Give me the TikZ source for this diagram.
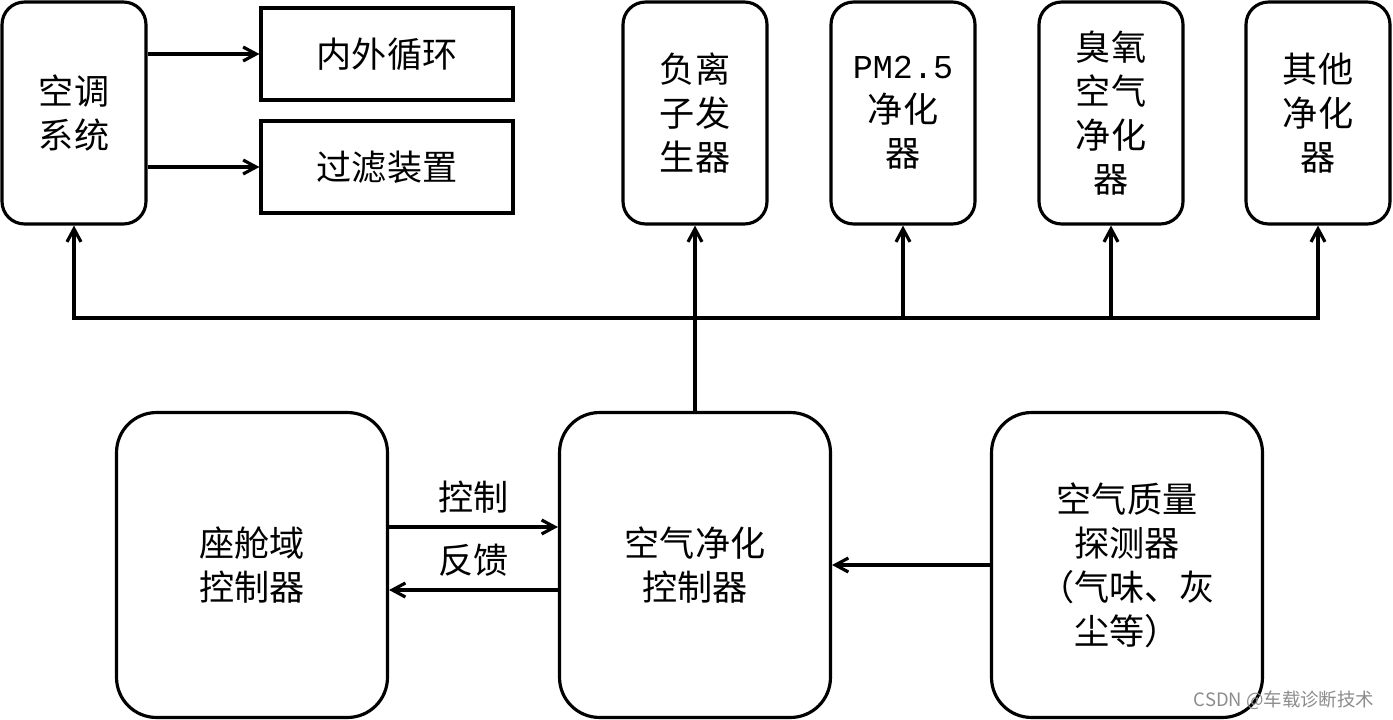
\documentclass[tikz,border=0pt]{standalone}
\usepackage{fontspec}
\usepackage{tikz}
\usetikzlibrary{arrows.meta, calc}
\newfontfamily\cjk{Noto Sans CJK SC}
\newfontfamily\pmfont{Liberation Mono}

\begin{document}
\begin{tikzpicture}[x=0.02cm, y=-0.02cm, line width=1.8pt,
  >={Straight Barb[length=2.6mm, width=2.8mm]},
  every node/.style={font=\cjk\fontsize{20}{25}\selectfont},
  tallbox/.style={draw, rounded corners=0.45cm, minimum width=2.88cm,
    minimum height=4.44cm, align=center, inner sep=0pt},
  flatbox/.style={draw, minimum width=5.04cm, minimum height=1.84cm, inner sep=0pt},
  bigbox/.style={draw, rounded corners=0.8cm, minimum width=5.42cm,
    minimum height=6.1cm, align=center, inner sep=0pt},
  lbl/.style={inner sep=0pt}]

  \useasboundingbox (0,0) rectangle (1393,720);

  % Air conditioning and its parts
  \node[tallbox] (ac) at (74,113) {空调\\系统};
  \node[flatbox] (circ) at (387,54) {内外循环};
  \node[flatbox] (filt) at (387,167) {过滤装置};
  \draw[->] (ac.east |- circ) -- (circ.west);
  \draw[->] (ac.east |- filt) -- (filt.west);

  % Purifying units
  \node[tallbox] (anion) at (695,113) {负离\\子发\\生器};
  \node[tallbox] (pm) at (903,113) {{\pmfont\fontsize{19}{25}\selectfont PM2.5}\\净化\\器};
  \node[tallbox] (ozone) at (1111,113) {臭氧\\空气\\净化\\器};
  \node[tallbox] (other) at (1318,113) {其他\\净化\\器};

  % Controllers and sensor
  \node[bigbox] (cabin) at (252,565) {座舱域\\控制器};
  \node[bigbox] (purifier) at (695,565) {空气净化\\控制器};
  \node[bigbox] (sensor) at (1127,565) {空气质量\\探测器\\（气味、灰\\尘等）};

  % Bus to the units
  \coordinate (bus) at (695,318);
  \draw[->] (purifier.north) -- (anion.south);
  \draw[->] (bus) -| (ac.south);
  \draw[->] (bus) -| (pm.south);
  \draw[->] (bus) -| (ozone.south);
  \draw[->] (bus) -| (other.south);

  % Control and feedback
  \draw[->] ($(cabin.east)+(0,-38)$) -- ($(purifier.west)+(0,-38)$)
    node[lbl, midway, above=0.24cm] (ctl) {控制};
  \draw[->] ($(purifier.west)+(0,25)$) -- ($(cabin.east)+(0,25)$)
    node[lbl, midway, above=0.24cm] (fb) {反馈};
  \draw[->] (sensor.west) -- (purifier.east);

  \node[lbl, text=black!45, font=\cjk\fontsize{10.5}{12}\selectfont] (mark) at (1284,700) {CSDN @车载诊断技术};
\end{tikzpicture}
\end{document}
